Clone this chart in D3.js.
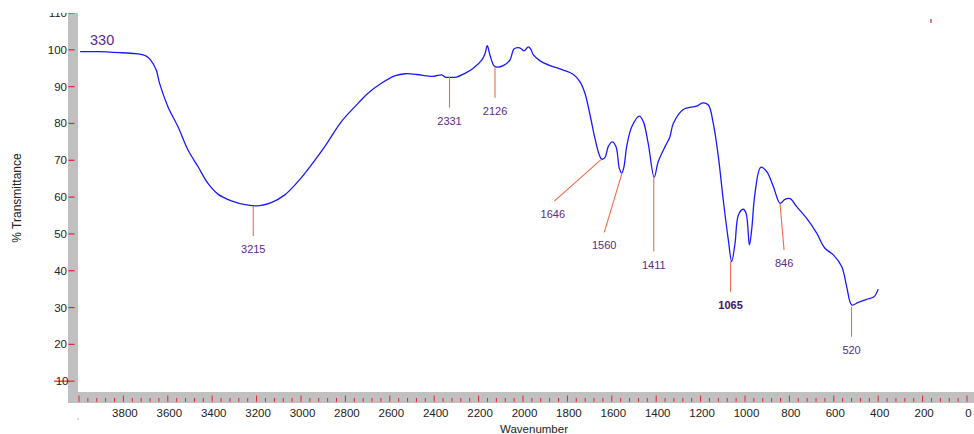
<!DOCTYPE html>
<html>
<head>
<meta charset="utf-8">
<script src="https://cdn.jsdelivr.net/npm/d3@7"></script>
<style>
  body { margin: 0; background: #fff; }
  svg { display: block; font-family: Arial, "Liberation Sans", sans-serif; }
</style>
</head>
<body>
<script>
// spectrum (wavenumber in cm-1, % transmittance)
const wavenumber = [3995, 3914, 3809, 3734, 3697, 3677, 3652, 3637, 3599, 3554, 3509, 3464, 3419, 3374, 3314, 3239, 3186, 3134, 3073, 3014, 2954, 2893, 2818, 2758, 2698, 2638, 2578, 2530, 2479, 2404, 2366, 2351, 2329, 2299, 2261, 2224, 2186, 2171, 2161, 2149, 2131, 2118, 2089, 2059, 2041, 2021, 2006, 1995, 1976, 1965, 1953, 1923, 1878, 1818, 1773, 1743, 1721, 1698, 1676, 1656, 1645, 1631, 1616, 1598, 1581, 1566, 1555, 1545, 1533, 1510, 1476, 1458, 1436, 1409, 1391, 1360, 1338, 1323, 1278, 1218, 1191, 1165, 1143, 1120, 1098, 1075, 1060, 1045, 1030, 1008, 995, 980, 970, 955, 929, 902, 872, 842, 820, 797, 767, 722, 677, 640, 602, 564, 542, 519, 490, 452, 419, 400];
const transmittance = [99.5, 99.5, 99.2, 98.9, 98.3, 97.2, 94.5, 90.9, 84.5, 79.1, 72.8, 68.3, 63.7, 60.8, 59.0, 57.8, 57.7, 58.5, 60.6, 64.2, 68.7, 73.7, 80.5, 84.5, 88.2, 90.9, 92.9, 93.5, 93.3, 92.8, 93.2, 92.6, 92.5, 92.6, 93.6, 95.0, 97.2, 99.0, 101.1, 98.6, 95.7, 95.3, 95.7, 97.2, 100.2, 100.6, 100.2, 99.7, 100.8, 100.2, 98.6, 97.0, 95.7, 94.5, 93.3, 91.3, 88.2, 82.3, 76.0, 71.4, 70.3, 70.7, 73.7, 75.0, 73.7, 67.8, 66.5, 68.3, 73.7, 79.1, 82.0, 80.5, 74.6, 65.4, 69.6, 73.7, 76.4, 80.0, 83.8, 84.7, 85.6, 85.0, 80.0, 71.0, 59.2, 48.3, 42.5, 47.4, 55.1, 56.7, 55.6, 47.0, 51.1, 61.0, 68.1, 66.9, 62.8, 58.3, 59.4, 59.6, 57.4, 54.2, 50.2, 46.1, 44.3, 41.1, 35.7, 30.7, 31.4, 32.2, 32.9, 35.0];

// peak picks: where the marker leaves the curve and where its tag sits
const peakLabels = ["3215", "2331", "2126", "1646", "1560", "1411", "1065", "846", "520"];
const peakWn     = [3215, 2331, 2126, 1646, 1555, 1411, 1065, 842, 520];
const peakT      = [57.6, 92.7, 95.4, 70.3, 66.3, 65.5, 42.6, 58.1, 30.2];
const tagWn      = [3215, 2331, 2126, 1859, 1634, 1411, 1065, 824, 520];
const tagT       = [49.4, 84.3, 87.0, 58.9, 50.4, 45.2, 34.3, 45.6, 22.1];

const sampleName = "330";
const yTicks = [10, 20, 30, 40, 50, 60, 70, 80, 90, 100, 110];
const xMajor = d3.range(4000, -1, -200);
const xMinor = d3.range(4000, -1, -40);

const W = 974, H = 434;
const svg = d3.select("body").append("svg")
  .attr("width", W)
  .attr("height", H);

const x = d3.scaleLinear().domain([4000, 0]).range([79, 967]);
const y = d3.scaleLinear().domain([0, 110]).range([418, 13]);

// grey axis strips
svg.append("rect").attr("x", 68).attr("y", 0).attr("width", 10).attr("height", 403).attr("fill", "#c0c0c0");
svg.append("rect").attr("x", 68).attr("y", 392).attr("width", W - 68).attr("height", 11).attr("fill", "#c0c0c0");

// y ticks + labels
svg.selectAll(".ytick").data(yTicks).enter().append("line")
  .attr("x1", d => d === 10 ? 54 : 68.5)
  .attr("x2", 74.5)
  .attr("y1", d => y(d)).attr("y2", d => y(d))
  .attr("stroke", "#e8202a").attr("stroke-width", 1.2);

svg.selectAll(".ylab").data(yTicks).enter().append("text")
  .attr("x", d => d === 10 ? 68.5 : 67)
  .attr("y", d => y(d) + 4)
  .attr("text-anchor", "end")
  .attr("font-size", 11.5)
  .attr("fill", "#222")
  .text(d => d);

// x ticks (minor every 40, major every 200)
svg.selectAll(".xminor").data(xMinor).enter().append("line")
  .attr("x1", d => x(d)).attr("x2", d => x(d))
  .attr("y1", d => d % 200 === 0 ? 395.5 : 398)
  .attr("y2", 401.8)
  .attr("stroke", "#e8202a").attr("stroke-width", 1);

svg.selectAll(".xlab").data(xMajor.filter(d => d < 4000)).enter().append("text")
  .attr("x", d => x(d) + 1.5)
  .attr("y", 417)
  .attr("text-anchor", "middle")
  .attr("font-size", 11.5)
  .attr("fill", "#222")
  .text(d => d);

// axis titles
svg.append("text")
  .attr("x", 534).attr("y", 433)
  .attr("text-anchor", "middle")
  .attr("font-size", 11.5)
  .attr("fill", "#222")
  .text("Wavenumber");

svg.append("text")
  .attr("transform", "translate(21,198) rotate(-90)")
  .attr("text-anchor", "middle")
  .attr("font-size", 12)
  .attr("fill", "#222")
  .text("% Transmittance");

// spectrum line
const pts = wavenumber.map((w, i) => [w, transmittance[i]]);
const line = d3.line()
  .x(d => x(d[0]))
  .y(d => y(d[1]))
  .curve(d3.curveCatmullRom.alpha(0.5));

svg.append("path")
  .datum(pts)
  .attr("fill", "none")
  .attr("stroke", "#1a1aff")
  .attr("stroke-width", 1.3)
  .attr("d", line);

// peak markers
peakLabels.forEach((lab, i) => {
  svg.append("line")
    .attr("x1", x(peakWn[i])).attr("y1", y(peakT[i]))
    .attr("x2", x(tagWn[i])).attr("y2", y(tagT[i]))
    .attr("stroke", "#f26a4b").attr("stroke-width", 1.1);

  svg.append("text")
    .attr("x", x(tagWn[i]) - (i === 3 ? 1.5 : 0))
    .attr("y", y(tagT[i]) + 17)
    .attr("text-anchor", "middle")
    .attr("font-size", 11)
    .attr("font-weight", lab === "1065" ? "bold" : "normal")
    .attr("fill", lab === "1065" ? "#3e1466" : "#5a2a8c")
    .text(lab);
});

// sample name
svg.append("text")
  .attr("x", 90).attr("y", 45)
  .attr("font-size", 14.5)
  .attr("fill", "#5a2a8c")
  .text(sampleName);

// top is cropped in the original
svg.append("rect").attr("x", 0).attr("y", 0).attr("width", W).attr("height", 13).attr("fill", "#fff");

// stray marks
svg.append("line").attr("x1", 931).attr("x2", 931).attr("y1", 19).attr("y2", 23)
  .attr("stroke", "#e8202a").attr("stroke-width", 1.2);
svg.append("rect").attr("x", 77.5).attr("y", 418.5).attr("width", 1.2).attr("height", 1.2).attr("fill", "#999");
</script>
</body>
</html>
